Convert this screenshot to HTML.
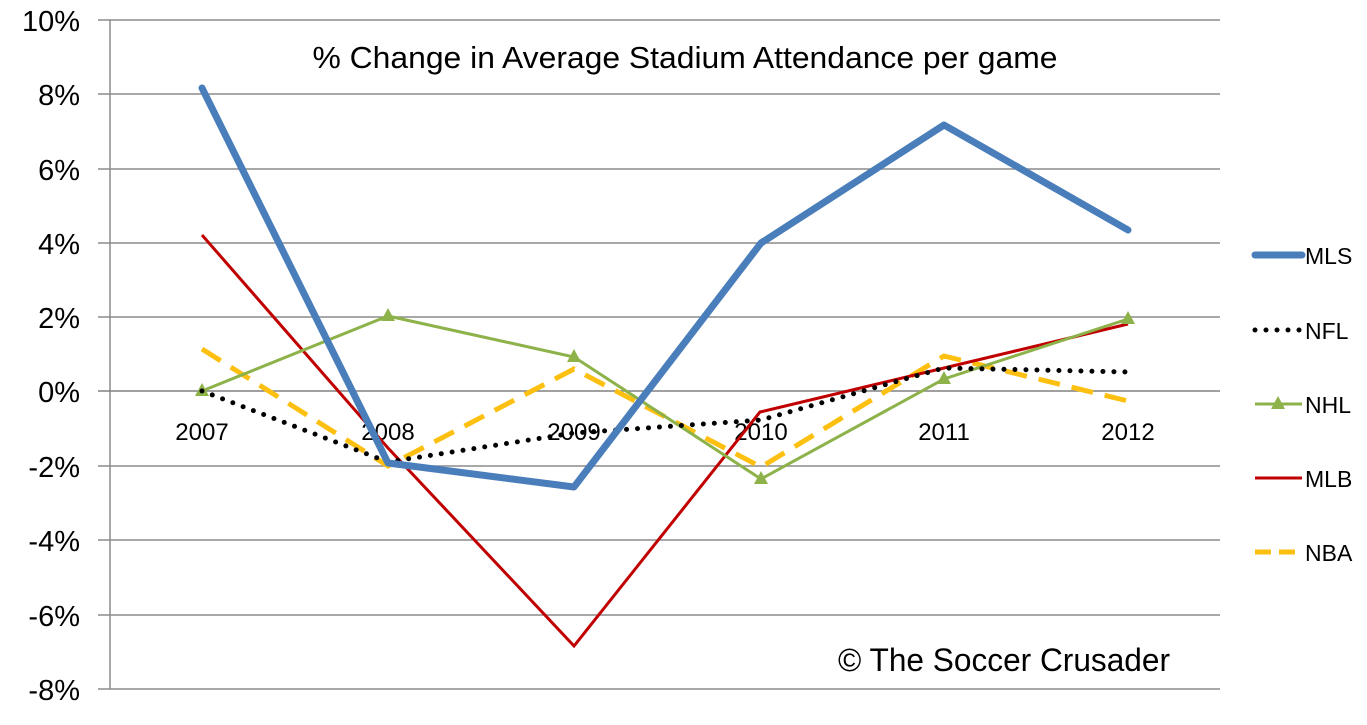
<!DOCTYPE html>
<html><head><meta charset="utf-8"><style>
html,body{margin:0;padding:0;background:#fff}
svg{display:block}
text{font-family:"Liberation Sans",sans-serif}
</style></head><body>
<svg width="1367" height="725" viewBox="0 0 1367 725">
<g stroke="#8c8c8c" stroke-width="1.5">
<line x1="98" y1="20" x2="1220" y2="20"/>
<line x1="98" y1="94" x2="1220" y2="94"/>
<line x1="98" y1="169" x2="1220" y2="169"/>
<line x1="98" y1="243" x2="1220" y2="243"/>
<line x1="98" y1="317" x2="1220" y2="317"/>
<line x1="98" y1="466" x2="1220" y2="466"/>
<line x1="98" y1="540" x2="1220" y2="540"/>
<line x1="98" y1="615" x2="1220" y2="615"/>
<line x1="98" y1="689" x2="1220" y2="689"/>
<line x1="110" y1="20" x2="110" y2="689"/>
</g>
<line x1="98" y1="391" x2="1220" y2="391" stroke="#808080" stroke-width="1.5"/>
<g font-size="29" text-anchor="end" fill="#000">
<text x="80" y="31">10%</text><text x="80" y="105">8%</text><text x="80" y="180">6%</text>
<text x="80" y="254">4%</text><text x="80" y="328">2%</text><text x="80" y="402">0%</text>
<text x="80" y="477">-2%</text><text x="80" y="551">-4%</text><text x="80" y="626">-6%</text>
<text x="80" y="700">-8%</text>
</g>
<g font-size="24" text-anchor="middle" fill="#000">
<text x="202" y="440">2007</text><text x="388" y="440">2008</text><text x="574" y="440">2009</text>
<text x="761" y="440">2010</text><text x="944" y="440">2011</text><text x="1128" y="440">2012</text>
</g>
<text x="685" y="68" font-size="31" text-anchor="middle" textLength="745" lengthAdjust="spacingAndGlyphs">% Change in Average Stadium Attendance per game</text>
<text x="1004" y="671" font-size="32" text-anchor="middle" textLength="332" lengthAdjust="spacingAndGlyphs">© The Soccer Crusader</text>
<polyline points="202,349 388,466 574,369 761,467 944,356 1128,401" fill="none" stroke="#fdc010" stroke-width="5" stroke-dasharray="22,12"/>
<polyline points="202,235 388,448 574,646 760,412 944,368 1128,324" fill="none" stroke="#c00000" stroke-width="3"/>
<polyline points="202,391 388,316 574,357 761,479 944,379 1128,319" fill="none" stroke="#8db24a" stroke-width="3"/>
<g fill="#8db24a">
<polygon points="202,383 209,396 195,396"/><polygon points="388,308 395,321 381,321"/><polygon points="574,349 581,362 567,362"/>
<polygon points="761,471 768,484 754,484"/><polygon points="944,371 951,384 937,384"/><polygon points="1128,311 1135,324 1121,324"/>
</g>
<polyline points="202,391 388,462 574,433 761,420 944,368 1128,372" fill="none" stroke="#000" stroke-width="5" stroke-linecap="round" stroke-dasharray="0,11"/>
<polyline points="202,88 388,463 574,487 761,243 944,125 1128,230" fill="none" stroke="#4a7ebb" stroke-width="7" stroke-linejoin="round" stroke-linecap="round"/>
<line x1="1255" y1="255" x2="1302" y2="255" stroke="#4a7ebb" stroke-width="7" stroke-linecap="round"/>
<line x1="1255" y1="330" x2="1302" y2="330" stroke="#000" stroke-width="5" stroke-linecap="round" stroke-dasharray="0,11"/>
<line x1="1255" y1="404" x2="1302" y2="404" stroke="#8db24a" stroke-width="3"/>
<polygon points="1278,396 1285,409 1271,409" fill="#8db24a"/>
<line x1="1255" y1="478" x2="1302" y2="478" stroke="#c00000" stroke-width="3"/>
<line x1="1255" y1="552" x2="1302" y2="552" stroke="#fdc010" stroke-width="5" stroke-dasharray="16,8"/>
<g font-size="23" fill="#000">
<text x="1305" y="264">MLS</text><text x="1305" y="339">NFL</text><text x="1305" y="413">NHL</text>
<text x="1305" y="487">MLB</text><text x="1305" y="561">NBA</text>
</g>
</svg>
</body></html>
